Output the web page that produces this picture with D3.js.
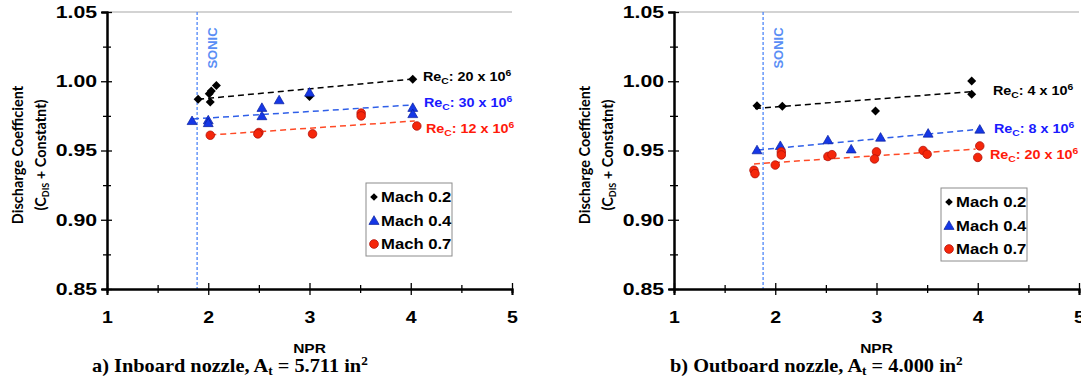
<!DOCTYPE html>
<html>
<head>
<meta charset="utf-8">
<script src="https://cdn.jsdelivr.net/npm/d3@7"></script>
<style>
  body { margin: 0; background: #fff; }
  svg text { font-weight: bold; }
</style>
</head>
<body>
<div id="chart"></div>
<script>
// axis ticks
let nprTicks = [1, 2, 3, 4, 5];
let nprMinor = [1.5, 2.5, 3.5, 4.5];
let cdTicks = [0.85, 0.90, 0.95, 1.00, 1.05];
let cdMinor = [0.875, 0.925, 0.975, 1.025];
let machNames = ["Mach 0.2", "Mach 0.4", "Mach 0.7"];

// a) inboard nozzle  [NPR, Cd]
let inboardM02 = [[1.90, 0.987], [2.01, 0.991], [2.03, 0.993], [2.08, 0.997], [2.02, 0.985], [3.00, 0.989], [4.02, 1.0015]];
let inboardM04 = [[1.84, 0.9715], [2.00, 0.972], [2.00, 0.970], [2.53, 0.981], [2.53, 0.975], [2.70, 0.9865], [3.00, 0.992], [4.02, 0.981], [4.02, 0.9765]];
let inboardM07 = [[2.02, 0.961], [2.50, 0.963], [2.49, 0.962], [3.03, 0.962], [3.51, 0.977], [3.51, 0.975], [4.06, 0.9677]];
let inboardTrend02 = [[1.90, 0.987], [4.01, 1.0015]];
let inboardTrend04 = [[1.85, 0.9728], [4.02, 0.9829]];
let inboardTrend07 = [[2.02, 0.9612], [4.04, 0.9713]];
let inboardRe = ["20", "30", "12"];
let inboardSonic = 1.89;

// b) outboard nozzle
let outboardM02 = [[1.82, 0.9823], [2.07, 0.982], [2.99, 0.9785], [3.94, 1.0002], [3.94, 0.9906]];
let outboardM04 = [[1.82, 0.9504], [2.05, 0.9535], [2.52, 0.9576], [2.75, 0.951], [3.04, 0.9595], [3.51, 0.9624], [4.02, 0.9653]];
let outboardM07 = [[1.79, 0.9357], [1.80, 0.9333], [2.00, 0.9395], [2.06, 0.949], [2.06, 0.9468], [2.52, 0.9457], [2.56, 0.947], [3.00, 0.949], [2.98, 0.9439], [3.46, 0.950], [3.50, 0.9473], [4.02, 0.9533], [4.00, 0.945]];
let outboardTrend02 = [[1.80, 0.9803], [3.94, 0.9925]];
let outboardTrend04 = [[1.83, 0.9504], [4.04, 0.9655]];
let outboardTrend07 = [[1.79, 0.9403], [3.98, 0.951]];
let outboardRe = ["4", "8", "20"];
let outboardSonic = 1.88;

let svg = d3.select("#chart").append("svg")
  .attr("width", 1081)
  .attr("height", 385)
  .style("font-family", "Arial, 'Liberation Sans', sans-serif");

let markFill = ["#000000", "#1537e6", "#f5260a"];
let markStroke = ["#000000", "#0a1f9c", "#b3120a"];
let trendColor = ["#000000", "#2f5fe8", "#ff4a26"];
let labelColor = ["#000000", "#1a1aff", "#ff1a0a"];

// markers: 0 diamond, 1 triangle, 2 circle
function addMarker(g, kind, cx, cy, s) {
  if (kind === 0) {
    g.append("path")
      .attr("d", `M${cx},${cy - s}L${cx + s},${cy}L${cx},${cy + s}L${cx - s},${cy}Z`)
      .attr("fill", markFill[0]);
  } else if (kind === 1) {
    g.append("path")
      .attr("d", `M${cx},${cy - s * 1.05}L${cx + s * 1.1},${cy + s * 0.85}L${cx - s * 1.1},${cy + s * 0.85}Z`)
      .attr("fill", markFill[1]).attr("stroke", markStroke[1]).attr("stroke-width", 0.7);
  } else {
    g.append("circle").attr("cx", cx).attr("cy", cy).attr("r", s * 0.95)
      .attr("fill", markFill[2]).attr("stroke", markStroke[2]).attr("stroke-width", 0.8);
  }
}

// horizontally stretched text (the original picture is a little wider than tall)
function addText(g, x, y, sx) {
  return g.append("text").attr("transform", `translate(${x},${y}) scale(${sx},1)`);
}

function drawPanel(p) {
  let x = d3.scaleLinear().domain([1, 5]).range([p.left, p.left + 405]);
  let y = d3.scaleLinear().domain([0.85, 1.05]).range([289, 12]);
  let g = svg.append("g");

  // top frame line
  g.append("line")
    .attr("x1", x(1)).attr("x2", x(5))
    .attr("y1", y(1.05)).attr("y2", y(1.05))
    .attr("stroke", "#c4c4c4").attr("stroke-width", 1.5);

  // sonic line
  g.append("line")
    .attr("x1", x(p.sonic)).attr("x2", x(p.sonic))
    .attr("y1", y(1.05)).attr("y2", y(0.85))
    .attr("stroke", "#4f86f7").attr("stroke-width", 1.3)
    .attr("stroke-dasharray", "3,2");
  g.append("text")
    .attr("transform", `translate(${x(p.sonic) + 15},${y(1.05) + 36}) rotate(-90)`)
    .attr("text-anchor", "middle")
    .attr("dy", "0.35em")
    .attr("font-size", "13px")
    .attr("fill", "#5a8ef5")
    .text("SONIC");

  // y axis
  let yAxis = g.append("g")
    .attr("transform", `translate(${x(1)},0)`)
    .call(d3.axisLeft(y).tickValues(cdTicks).tickFormat(d3.format(".2f")).tickSize(6));
  let yMinor = g.append("g")
    .attr("transform", `translate(${x(1)},0)`)
    .call(d3.axisLeft(y).tickValues(cdMinor).tickFormat("").tickSize(5));

  // x axis
  let xAxis = g.append("g")
    .attr("transform", `translate(0,${y(0.85)})`)
    .call(d3.axisBottom(x).tickValues(nprTicks).tickFormat(d3.format("d")).tickSize(6));
  let xMinor = g.append("g")
    .attr("transform", `translate(0,${y(0.85)})`)
    .call(d3.axisBottom(x).tickValues(nprMinor).tickFormat("").tickSize(4));

  [yAxis, yMinor, xAxis, xMinor].forEach(a => {
    a.select(".domain").attr("stroke", "#000").attr("stroke-width", 2);
    a.selectAll("line").attr("stroke", "#000").attr("stroke-width", 1.3);
  });
  yAxis.selectAll("line").attr("x1", 5);
  yMinor.selectAll("line").attr("x1", 4).attr("x2", -4);
  xAxis.selectAll("line").attr("y1", -6);
  xMinor.selectAll("line").attr("y1", -4);

  yAxis.selectAll("text")
    .style("font-family", "Arial, 'Liberation Sans', sans-serif")
    .attr("font-size", "17px").attr("fill", "#000")
    .attr("x", -8).attr("transform", "scale(1.25,1)");
  xAxis.selectAll("text")
    .style("font-family", "Arial, 'Liberation Sans', sans-serif")
    .attr("font-size", "17px").attr("fill", "#000")
    .attr("y", 22).attr("transform", "scale(1.15,1)");

  // x label
  addText(g, x(3), 353, 1.15)
    .attr("text-anchor", "middle").attr("font-size", "13.5px")
    .text("NPR");

  // y label
  g.append("text")
    .attr("transform", `translate(${x(1) - 89},155) rotate(-90)`)
    .attr("text-anchor", "middle")
    .attr("dy", "0.35em")
    .style("font-family", "Lato, 'Open Sans', sans-serif")
    .attr("font-size", "14.5px")
    .text("Discharge Coefficient");
  let yl2 = g.append("text")
    .attr("transform", `translate(${x(1) - 66},155) rotate(-90)`)
    .attr("text-anchor", "middle")
    .attr("dy", "0.35em")
    .style("font-family", "Lato, 'Open Sans', sans-serif")
    .attr("font-size", "14.5px");
  yl2.append("tspan").text("(C");
  yl2.append("tspan").attr("dy", 3).attr("font-size", "9px").text("DIS");
  yl2.append("tspan").attr("dy", -3).text(" + Constatnt)");

  // trend lines
  let line = d3.line().x(d => x(d[0])).y(d => y(d[1]));
  p.trends.forEach((t, i) => {
    g.append("path")
      .datum(t)
      .attr("d", line)
      .attr("fill", "none")
      .attr("stroke", trendColor[i])
      .attr("stroke-width", 1.5)
      .attr("stroke-dasharray", "6,4");
  });

  // points
  p.series.forEach((s, i) => {
    s.forEach(d => addMarker(g, i, x(d[0]), y(d[1]), 4.5));
  });

  // Reynolds number labels
  p.re.forEach((re, i) => {
    let pos = p.reAt[i];
    let t = addText(g, x(pos[0]), y(pos[1]), 1.15)
      .attr("dy", "0.35em")
      .attr("font-size", "12.5px")
      .attr("fill", labelColor[i]);
    t.append("tspan").text("Re");
    t.append("tspan").attr("dy", 3).attr("font-size", "9px").text("C");
    t.append("tspan").attr("dy", -3).text(`: ${re} x 10`);
    t.append("tspan").attr("dy", -5).attr("font-size", "9px").text("6");
  });

  // legend
  let lg = g.append("g").attr("transform", `translate(${p.legend[0]},${p.legend[1]})`);
  lg.append("rect")
    .attr("width", 86).attr("height", 73)
    .attr("fill", "#fff").attr("stroke", "#8c8c8c").attr("stroke-width", 1);
  machNames.forEach((name, i) => {
    let cy = 14 + i * 23.5;
    addMarker(lg, i, 8, cy, i === 0 ? 3.8 : 4.6);
    addText(lg, 15, cy, 1.15)
      .attr("dy", "0.36em")
      .attr("font-size", "14.5px")
      .text(name);
  });

  // caption
  let cap = addText(g, p.caption[0], 372, 1.1)
    .style("font-family", "'Liberation Serif', 'Times New Roman', serif")
    .attr("font-size", "18.5px");
  cap.append("tspan").text(p.caption[1] + ", A");
  cap.append("tspan").attr("dy", 3).attr("font-size", "12px").text("t");
  cap.append("tspan").attr("dy", -3).text(" = " + p.caption[2] + " in");
  cap.append("tspan").attr("dy", -7).attr("font-size", "12px").text("2");
}

drawPanel({
  left: 107,
  sonic: inboardSonic,
  series: [inboardM02, inboardM04, inboardM07],
  trends: [inboardTrend02, inboardTrend04, inboardTrend07],
  re: inboardRe,
  reAt: [[4.12, 1.0031], [4.13, 0.9843], [4.15, 0.9655]],
  legend: [366, 183],
  caption: [92, "a) Inboard nozzle", "5.711"]
});

drawPanel({
  left: 674,
  sonic: outboardSonic,
  series: [outboardM02, outboardM04, outboardM07],
  trends: [outboardTrend02, outboardTrend04, outboardTrend07],
  re: outboardRe,
  reAt: [[4.15, 0.993], [4.16, 0.9655], [4.12, 0.9467]],
  legend: [941, 188],
  caption: [670, "b) Outboard nozzle", "4.000"]
});
</script>
</body>
</html>
